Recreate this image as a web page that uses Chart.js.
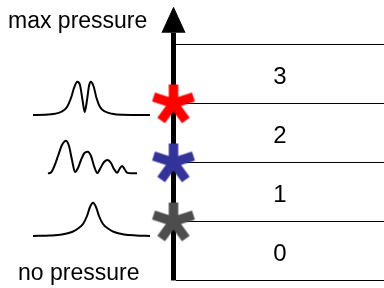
<!DOCTYPE html>
<html>
<head>
<meta charset="utf-8">
<script src="https://cdn.jsdelivr.net/npm/chart.js@4"></script>
<style>
  html, body { margin: 0; padding: 0; background: #fff; }
  #wrap { width: 384px; height: 288px; }
</style>
</head>
<body>
<div id="wrap"><canvas id="chart" width="384" height="288"></canvas></div>
<script>
// --------------- Data ---------------
// pressure levels: band boundaries on the vertical axis
const levels = [0, 1, 2, 3, 4];
const bandLabels = ["0", "1", "2", "3"];
const starLevels = [1, 2, 3];
const endLabels = ["no pressure", "max pressure"];

// spectra insets (x along the panel, y in inset rows, top = 0)
const specLowX = [33, 50, 62, 72, 78, 83, 87, 90, 93, 96, 99, 103, 108, 114, 124, 136, 150];
const specLowY = [236, 235.5, 234.5, 232, 228.5, 224, 216, 207, 202.7, 207, 216, 224, 228.5, 232, 234.5, 235.5, 236];

const specMidX = [48, 51, 54, 58, 62, 66, 69, 72, 75, 78, 81, 84.5, 87.7, 91, 94, 97.3, 100.5, 104, 107.7, 111, 114, 117.3, 119.5, 122, 124.5, 127, 131, 137];
const specMidY = [173.5, 172.5, 167, 156, 145, 140.7, 146, 160, 172, 168, 160, 153, 151.7, 156, 166, 173, 168, 162, 160, 163, 169, 172.7, 169, 166, 169, 172.7, 173.3, 173.3];

const specHighX = [33, 45, 55, 62, 67, 71, 74, 77.3, 80, 82.5, 84.7, 87, 89, 90.7, 93.5, 96.5, 100, 105, 112, 122, 150];
const specHighY = [115, 114.8, 113.8, 111.5, 107, 98, 88, 81.7, 85, 100, 112, 100, 86, 81.7, 86, 98, 107, 111.5, 113.8, 114.8, 115];

// --------------- Styles ---------------
const starColors = ["#4d4d4d", "#333399", "#ff0000"];
const FONT = '23px "Liberation Sans", Arial, sans-serif';
const DIGIT_FONT = '24px "Liberation Sans", Arial, sans-serif';

// 5-armed asterisk used as point style
function makeStar(color) {
  const c = document.createElement('canvas');
  c.width = 50; c.height = 50;
  const g = c.getContext('2d');
  g.strokeStyle = color;
  g.lineWidth = 9.5;
  g.lineCap = 'butt';
  for (let k = 0; k < 5; k++) {
    const a = (-90 + 72 * k) * Math.PI / 180;
    const len = k === 0 ? 19 : 21;
    g.beginPath();
    g.moveTo(25, 25);
    g.lineTo(25 + len * Math.cos(a), 25 + len * Math.sin(a));
    g.stroke();
  }
  return c;
}

const zip = (xs, ys) => xs.map((x, i) => ({ x: x, y: ys[i] }));

function spectrum(xs, ys) {
  return {
    data: zip(xs, ys),
    yAxisID: 'yInset',
    borderColor: '#000',
    borderWidth: 2,
    pointRadius: 0,
    cubicInterpolationMode: 'monotone',
    fill: false,
    order: 3
  };
}

// --------------- Datasets ---------------
const datasets = [];

// level lines to the right of the axis
levels.forEach(l => {
  datasets.push({
    data: [{ x: 176, y: l }, { x: 384, y: l }],
    borderColor: '#000',
    borderWidth: 1,
    pointRadius: 0,
    order: 3
  });
});

// axis shaft
datasets.push({
  data: [{ x: 173.5, y: levels[0] }, { x: 173.5, y: 4.2 }],
  borderColor: '#000',
  borderWidth: 5,
  borderCapStyle: 'butt',
  pointRadius: 0,
  order: 2
});

// arrow head
datasets.push({
  data: [{ x: 162, y: 4.2 }, { x: 173.5, y: 4.627 }, { x: 185, y: 4.2 }],
  borderColor: '#000',
  borderWidth: 1,
  backgroundColor: '#000',
  pointRadius: 0,
  tension: 0,
  fill: { value: 4.2 },
  order: 2
});

datasets.push(spectrum(specLowX, specLowY));
datasets.push(spectrum(specMidX, specMidY));
datasets.push(spectrum(specHighX, specHighY));

// asterisks on the axis
datasets.push({
  data: starLevels.map(l => ({ x: 173.5, y: l })),
  showLine: false,
  pointStyle: starLevels.map((l, i) => makeStar(starColors[i])),
  pointRadius: 21,
  order: 0
});

// --------------- Text plugin ---------------
const textPlugin = {
  id: 'diagramText',
  afterDraw(chart) {
    const ctx = chart.ctx;
    const x = chart.scales.x, y = chart.scales.y, yi = chart.scales.yInset;
    ctx.save();
    ctx.fillStyle = '#000';
    ctx.font = DIGIT_FONT;
    ctx.textBaseline = 'alphabetic';
    ctx.textAlign = 'center';
    bandLabels.forEach((t, i) => {
      ctx.fillText(t, x.getPixelForValue(280), y.getPixelForValue(levels[i] + 0.33));
    });
    ctx.font = FONT;
    ctx.textAlign = 'left';
    ctx.fillText(endLabels[1], x.getPixelForValue(8), yi.getPixelForValue(28));
    ctx.fillText(endLabels[0], x.getPixelForValue(18), yi.getPixelForValue(280));
    ctx.restore();
  }
};

// --------------- Chart ---------------
new Chart(document.getElementById('chart').getContext('2d'), {
  type: 'line',
  data: { datasets: datasets },
  options: {
    responsive: false,
    animation: false,
    events: [],
    layout: { padding: 0, autoPadding: false },
    plugins: { legend: { display: false }, tooltip: { enabled: false } },
    elements: { line: { clip: false } },
    scales: {
      x: { type: 'linear', min: 0, max: 384, display: false },
      y: { type: 'linear', min: -0.1271, max: 4.7542, display: false },
      yInset: { type: 'linear', min: 0, max: 288, reverse: true, display: false }
    }
  },
  plugins: [textPlugin]
});
</script>
</body>
</html>
